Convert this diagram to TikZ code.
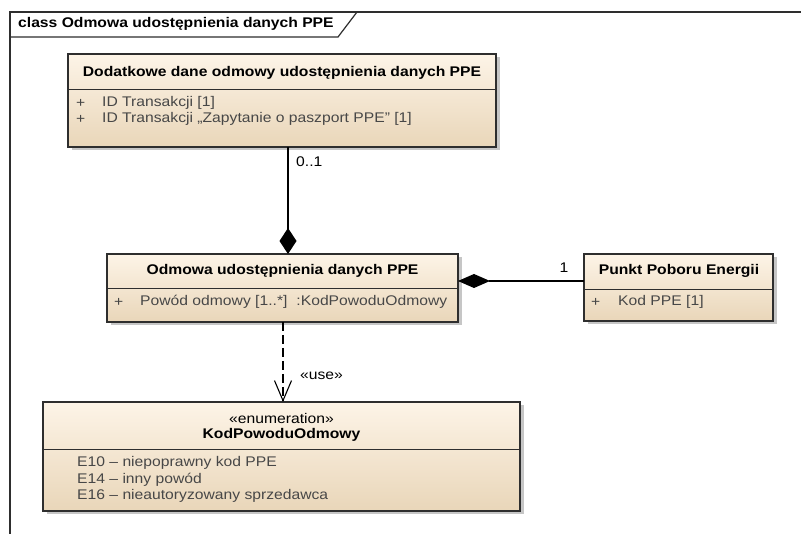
\documentclass[tikz,border=0pt]{standalone}
\usepackage{fontspec}
\setmainfont{Liberation Sans}[FakeStretch=1.12]
\usetikzlibrary{arrows.meta,shadows}
\definecolor{fillTop}{HTML}{FDF4E7}
\definecolor{fillBot}{HTML}{E9D6B9}
\definecolor{shadowc}{HTML}{C6C6C6}
\definecolor{edgec}{HTML}{2E2E2E}
\definecolor{attrc}{HTML}{474747}
\begin{document}
\begin{tikzpicture}[x=1pt,y=-1pt,
  classbox/.style={draw=edgec, line width=1.3pt, top color=fillTop, bottom color=fillBot,
    inner sep=0pt, outer sep=0pt,
    drop shadow={shadow xshift=3.5pt,shadow yshift=-3.5pt,fill=shadowc,opacity=1}},
  sepline/.style={draw=edgec, line width=1pt},
  ttl/.style={font=\bfseries\fontsize{14}{16}\selectfont, inner sep=0pt},
  attr/.style={font=\fontsize{14}{16}\selectfont, text=attrc, inner sep=0pt, anchor=west},
  lbl/.style={font=\fontsize{14}{16}\selectfont, inner sep=0pt},
  assoc/.style={draw=black, line width=1.1pt},
  frameline/.style={draw=edgec, line width=1.2pt}
]
\useasboundingbox (0,0) rectangle (801,534);
\fill[white] (0,0) rectangle (801,534);
% frame
\draw[frameline] (10,534) -- (10,12) -- (801,12);
\draw[frameline] (10,37) -- (338,37) -- (357,12);
\node[ttl, anchor=west] (frametitle) at (18,24) {class Odmowa udostępnienia danych PPE};

% boxes
\node[classbox, minimum width=428pt, minimum height=93pt] (dod) at (282,100.5) {};
\draw[sepline] (dod.west |- 0,90) -- (dod.east |- 0,90);
\node[ttl] (dodt) at (282,73) {Dodatkowe dane odmowy udostępnienia danych PPE};
\node[attr] (doda1p) at (76,103) {+};
\node[attr] (doda1) at (102,103) {ID Transakcji [1]};
\node[attr] (doda2p) at (76,119) {+};
\node[attr] (doda2) at (102,119) {ID Transakcji „Zapytanie o paszport PPE” [1]};

\node[classbox, minimum width=351pt, minimum height=68pt] (odm) at (282.5,288) {};
\draw[sepline] (odm.west |- 0,289) -- (odm.east |- 0,289);
\node[ttl] (odmt) at (282.5,271) {Odmowa udostępnienia danych PPE};
\node[attr] (odmap) at (114,302) {+};
\node[attr] (odma) at (140,302) {Powód odmowy [1..*]\hspace{9pt}:KodPowoduOdmowy};

\node[classbox, minimum width=189pt, minimum height=67pt] (ppe) at (678.5,287.5) {};
\draw[sepline] (ppe.west |- 0,290) -- (ppe.east |- 0,290);
\node[ttl] (ppet) at (679,271) {Punkt Poboru Energii};
\node[attr] (ppeap) at (591,302) {+};
\node[attr] (ppea) at (618,302) {Kod PPE [1]};

\node[classbox, minimum width=477pt, minimum height=109pt] (enum) at (281.5,456.5) {};
\draw[sepline] (enum.west |- 0,450) -- (enum.east |- 0,450);
\node[lbl] (enums) at (281.5,418) {«enumeration»};
\node[ttl] (enumt) at (281.5,435) {KodPowoduOdmowy};
\node[attr] (e1) at (77,463) {E10 – niepoprawny kod PPE};
\node[attr] (e2) at (77,480) {E14 – inny powód};
\node[attr] (e3) at (77,496) {E16 – nieautoryzowany sprzedawca};

% connectors
\draw[assoc, {Diamond[length=26pt,width=17pt]}-] ([xshift=5.5pt]odm.north) -- ([xshift=6pt]dod.south);
\node[lbl, anchor=west] (m01) at (296,162) {0..1};
\draw[assoc, {Diamond[length=32pt,width=14pt]}-] ([yshift=7pt]odm.east) -- ([yshift=7pt]odm.east -| ppe.west);
\node[lbl] (m1) at (564,268) {1};
\draw[assoc, dash pattern=on 9pt off 4pt, -{Straight Barb[length=20pt,width=17pt]}] ([xshift=0.5pt]odm.south) -- ([xshift=1.5pt]enum.north);
\node[lbl, anchor=west] (use) at (300,376) {«use»};
\end{tikzpicture}
\end{document}
